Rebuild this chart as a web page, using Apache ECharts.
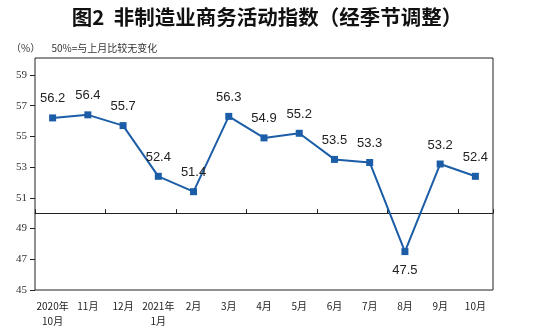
<!DOCTYPE html>
<html>
<head>
<meta charset="utf-8">
<script src="https://cdn.jsdelivr.net/npm/echarts@6/dist/echarts.min.js"></script>
<style>
  html, body { margin: 0; padding: 0; background: #fff; }
  #chart { width: 534px; height: 334px; }
</style>
</head>
<body>
<div id="chart"></div>
<script>
// Monthly non-manufacturing business activity index (seasonally adjusted)
const months = ['2020年\n10月', '11月', '12月', '2021年\n1月', '2月', '3月', '4月', '5月', '6月', '7月', '8月', '9月', '10月'];
const indexValues = [56.2, 56.4, 55.7, 52.4, 51.4, 56.3, 54.9, 55.2, 53.5, 53.3, 47.5, 53.2, 52.4];
const yTicks = [45, 47, 49, 51, 53, 55, 57, 59];
const baseline = 50;

const chart = echarts.init(document.getElementById('chart'));

const cjk = '"SimSun", "Noto Sans CJK SC", sans-serif';

chart.setOption({
  animation: false,
  backgroundColor: '#fff',
  title: [
    {
      text: '图2  非制造业商务活动指数（经季节调整）',
      left: 'center',
      top: 2,
      textStyle: { fontFamily: '"Noto Sans CJK SC", sans-serif', fontSize: 20.5, fontWeight: 'bold', color: '#111' }
    },
    {
      text: '（%）     50%=与上月比较无变化',
      left: 6,
      top: 38,
      textStyle: { fontFamily: cjk, fontSize: 10, fontWeight: 'normal', color: '#333' }
    }
  ],
  grid: {
    left: 35, right: 41, top: 58, bottom: 44,
    show: true, borderColor: '#222', borderWidth: 1
  },
  xAxis: [
    {
      type: 'category',
      data: months,
      position: 'bottom',
      boundaryGap: true,
      axisLine: { show: false },
      axisTick: { show: false },
      axisLabel: { interval: 0, margin: 9, fontFamily: cjk, fontSize: 10, color: '#222', lineHeight: 15 }
    },
    {
      // reference line at 50 with upward category ticks
      type: 'category',
      data: months,
      position: 'bottom',
      boundaryGap: true,
      axisLine: { show: true, onZero: true, onZeroAxisIndex: 1, lineStyle: { color: '#222', width: 1 } },
      axisTick: { show: true, inside: true, length: 4, lineStyle: { color: '#222' } },
      axisLabel: { show: false }
    }
  ],
  yAxis: [
    {
      type: 'value',
      min: 45,
      max: 60.1,
      axisLine: { show: false },
      splitLine: { show: false },
      axisTick: { show: true, length: 5, customValues: yTicks, lineStyle: { color: '#222' } },
      axisLabel: { customValues: yTicks, margin: 8, fontFamily: '"Liberation Serif", serif', fontSize: 11, color: '#333' }
    },
    {
      // offset copy so that its zero sits at the 50 baseline
      type: 'value',
      min: 45 - baseline,
      max: 60.1 - baseline,
      show: false
    }
  ],
  series: [
    {
      type: 'line',
      xAxisIndex: 0,
      yAxisIndex: 0,
      data: indexValues.map(v => ({
        value: v,
        label: v < baseline ? { position: 'bottom', distance: 9 } : undefined
      })),
      symbol: 'rect',
      symbolSize: 7,
      lineStyle: { color: '#1b5da6', width: 2 },
      itemStyle: { color: '#1b5da6' },
      label: {
        show: true,
        position: 'top',
        distance: 9,
        fontFamily: '"Liberation Sans", Arial, sans-serif',
        fontSize: 13,
        color: '#222',
        formatter: p => p.value.toFixed(1)
      }
    }
  ]
});
</script>
</body>
</html>
